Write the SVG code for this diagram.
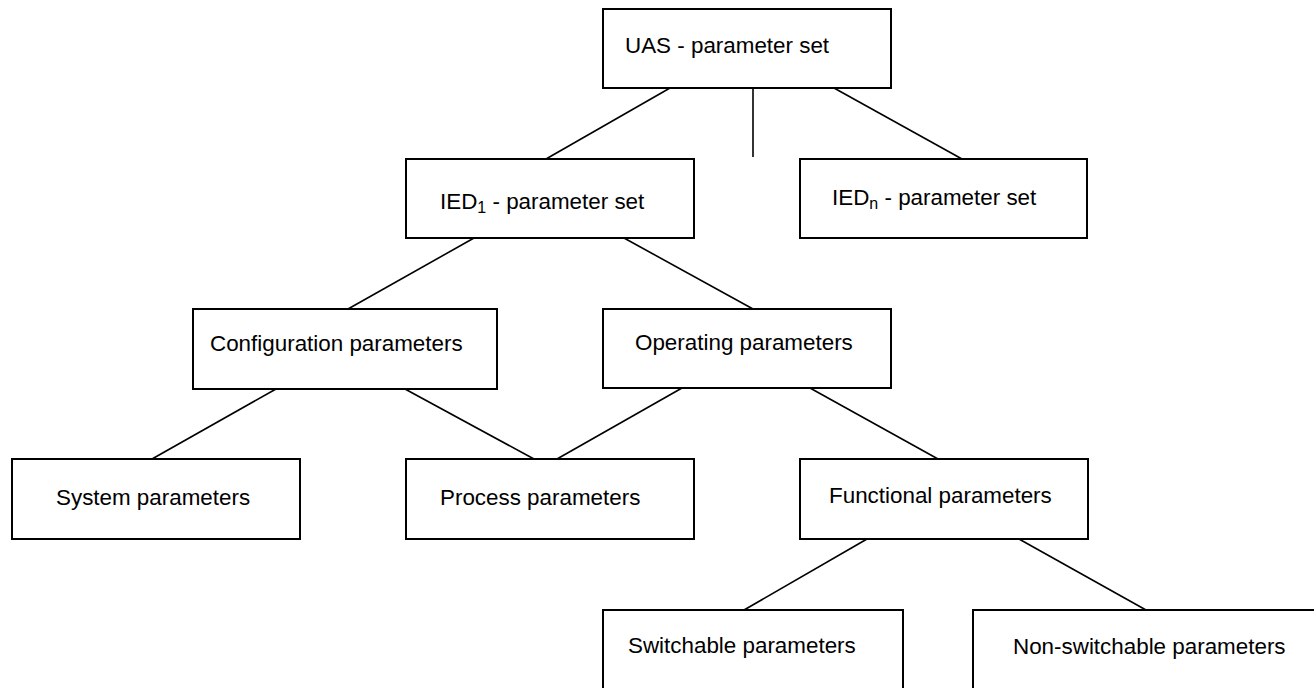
<svg xmlns="http://www.w3.org/2000/svg" width="1314" height="688" viewBox="0 0 1314 688">
  <style>
    .box { fill: #ffffff; stroke: #000000; stroke-width: 2; }
    .label { font-family: "Liberation Sans", Arial, sans-serif; font-size: 22.4px; fill: #000000; }
    .sub { font-size: 16px; }
    .link { stroke: #000000; stroke-width: 1.6; fill: none; }
  </style>
  <rect width="1314" height="688" fill="#ffffff"/>

  <!-- tree connectors -->
  <g id="connectors">
    <line class="link" x1="670" y1="88" x2="546" y2="159"/>
    <line class="link" x1="753" y1="88" x2="753" y2="157"/>
    <line class="link" x1="834" y1="88" x2="962" y2="159"/>
    <line class="link" x1="474" y1="238" x2="348" y2="309"/>
    <line class="link" x1="624" y1="238" x2="753" y2="309"/>
    <line class="link" x1="276" y1="389" x2="152" y2="459"/>
    <line class="link" x1="405" y1="389" x2="534" y2="459"/>
    <line class="link" x1="682" y1="388" x2="557" y2="459"/>
    <line class="link" x1="810" y1="388" x2="938" y2="459"/>
    <line class="link" x1="867" y1="539" x2="744" y2="610"/>
    <line class="link" x1="1019" y1="539" x2="1146" y2="610"/>
  </g>

  <g id="uas">
    <rect class="box" x="603" y="9" width="288" height="79"/>
    <text class="label" x="625" y="53">UAS - parameter set</text>
  </g>

  <g id="ied1">
    <rect class="box" x="406" y="159" width="288" height="79"/>
    <text class="label" x="440" y="209">IED<tspan class="sub" dy="4">1</tspan><tspan dy="-4"> - parameter set</tspan></text>
  </g>

  <g id="iedn">
    <rect class="box" x="800" y="159" width="287" height="79"/>
    <text class="label" x="832" y="205">IED<tspan class="sub" dy="4">n</tspan><tspan dy="-4"> - parameter set</tspan></text>
  </g>

  <g id="configuration">
    <rect class="box" x="193" y="309" width="304" height="80"/>
    <text class="label" x="210" y="351">Configuration parameters</text>
  </g>

  <g id="operating">
    <rect class="box" x="603" y="309" width="288" height="79"/>
    <text class="label" x="635" y="350">Operating parameters</text>
  </g>

  <g id="system">
    <rect class="box" x="12" y="459" width="288" height="80"/>
    <text class="label" x="56" y="505">System parameters</text>
  </g>

  <g id="process">
    <rect class="box" x="406" y="459" width="288" height="80"/>
    <text class="label" x="440" y="505">Process parameters</text>
  </g>

  <g id="functional">
    <rect class="box" x="800" y="459" width="288" height="80"/>
    <text class="label" x="829" y="503">Functional parameters</text>
  </g>

  <g id="switchable">
    <rect class="box" x="603" y="610" width="300" height="90"/>
    <text class="label" x="628" y="653">Switchable parameters</text>
  </g>

  <g id="non-switchable">
    <rect class="box" x="973" y="610" width="360" height="90"/>
    <text class="label" x="1013" y="654">Non-switchable parameters</text>
  </g>
</svg>
